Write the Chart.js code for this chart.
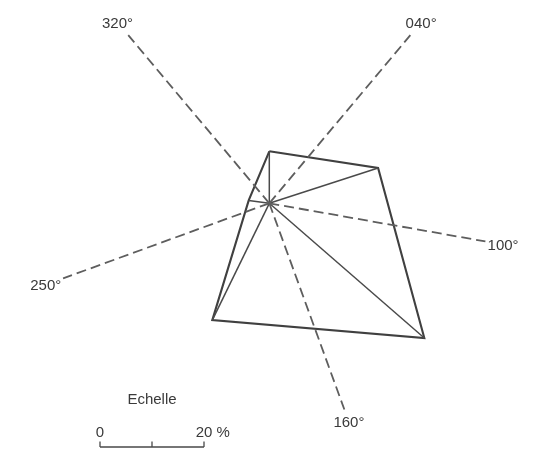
<!DOCTYPE html>
<html><head><meta charset="utf-8">
<script src="https://cdn.jsdelivr.net/npm/chart.js@4/dist/chart.umd.min.js"></script>
<style>html,body{margin:0;padding:0;background:#fff}#wrap{width:533px;height:453px;position:relative}</style>
</head><body><div id="wrap"><canvas id="c"></canvas></div>
<script>
// ---- data ----
const rayDirections = [320, 40, 100, 160, 250];
const rayLabels = ['320°', '040°', '100°', '160°', '250°'];
const sectorAngles = [0, 72, 131, 206, 278];
const sectorValues = [10, 22, 39.5, 25, 4];
const scaleTicks = [0, 10, 20];
const scaleTickLabels = ['0', '', '20 %'];
const scaleTitle = 'Echelle';

// ---- layout ----
const W = 533, H = 453, PX = 5.2, CX = 269.3, CY = 203.3;
const RAY = 42.2;
const FONT = '15px "Liberation Sans", Arial, sans-serif';
const TEXT = '#3a3a3a';
const rad = d => d * Math.PI / 180;
const polar = (deg, r) => ({ x: r * Math.sin(rad(deg)), y: r * Math.cos(rad(deg)) });
const O = { x: 0, y: 0 };

const datasets = [];
rayDirections.forEach(d => datasets.push({
  data: [O, polar(d, RAY)], showLine: true, pointRadius: 0,
  borderColor: '#5e5e5e', borderWidth: 1.8, borderDash: [10, 5], clip: false
}));
sectorAngles.forEach((a, i) => datasets.push({
  data: [O, polar(a, sectorValues[i])], showLine: true, pointRadius: 0,
  borderColor: '#4a4a4a', borderWidth: 1.5, clip: false
}));
const poly = sectorAngles.map((a, i) => polar(a, sectorValues[i]));
poly.push(poly[0]);
datasets.push({ data: poly, showLine: true, pointRadius: 0, borderColor: '#404040', borderWidth: 2.1, clip: false });

const labelsPlugin = {
  id: 'labels',
  afterDatasetsDraw(chart) {
    const ctx = chart.ctx, xs = chart.scales.x, ys = chart.scales.y;
    ctx.save();
    ctx.font = FONT; ctx.fillStyle = TEXT; ctx.textAlign = 'center'; ctx.textBaseline = 'alphabetic';
    const cap = 10.8;
    rayDirections.forEach((d, i) => {
      const p = polar(d, RAY);
      const ex = xs.getPixelForValue(p.x), ey = ys.getPixelForValue(p.y);
      const ux = Math.sin(rad(d)), uy = -Math.cos(rad(d));
      const w = ctx.measureText(rayLabels[i]).width;
      const off = (w / 2) * Math.abs(ux) + (cap / 2 + 1.5) * Math.abs(uy) + 1.5;
      ctx.fillText(rayLabels[i], ex + ux * off, ey + uy * off + cap / 2);
    });
    // scale bar
    const bx = 100, by = 447;
    const unit = xs.getPixelForValue(1) - xs.getPixelForValue(0);
    const last = scaleTicks[scaleTicks.length - 1];
    ctx.strokeStyle = '#4a4a4a'; ctx.lineWidth = 1.3;
    ctx.beginPath();
    ctx.moveTo(bx, by); ctx.lineTo(bx + last * unit, by);
    scaleTicks.forEach(t => { ctx.moveTo(bx + t * unit, by); ctx.lineTo(bx + t * unit, by - 5.5); });
    ctx.stroke();
    ctx.textAlign = 'left';
    scaleTicks.forEach((t, i) => {
      const s = scaleTickLabels[i]; if (!s) return;
      const num = s.split(' ')[0];
      const nw = ctx.measureText(num).width;
      ctx.fillText(s, bx + t * unit - nw / 2, by - 10.5);
    });
    ctx.textAlign = 'center';
    ctx.fillText(scaleTitle, bx + last * unit / 2, 403.5);
    ctx.restore();
  }
};

new Chart(document.getElementById('c'), {
  type: 'scatter',
  data: { datasets },
  options: {
    responsive: true, maintainAspectRatio: false, animation: false,
    layout: { padding: 0 },
    plugins: { legend: { display: false }, tooltip: { enabled: false } },
    scales: {
      x: { type: 'linear', display: false, min: -CX / PX, max: (W - CX) / PX },
      y: { type: 'linear', display: false, min: -(H - CY) / PX, max: CY / PX }
    }
  },
  plugins: [labelsPlugin]
});
</script>
</body></html>
